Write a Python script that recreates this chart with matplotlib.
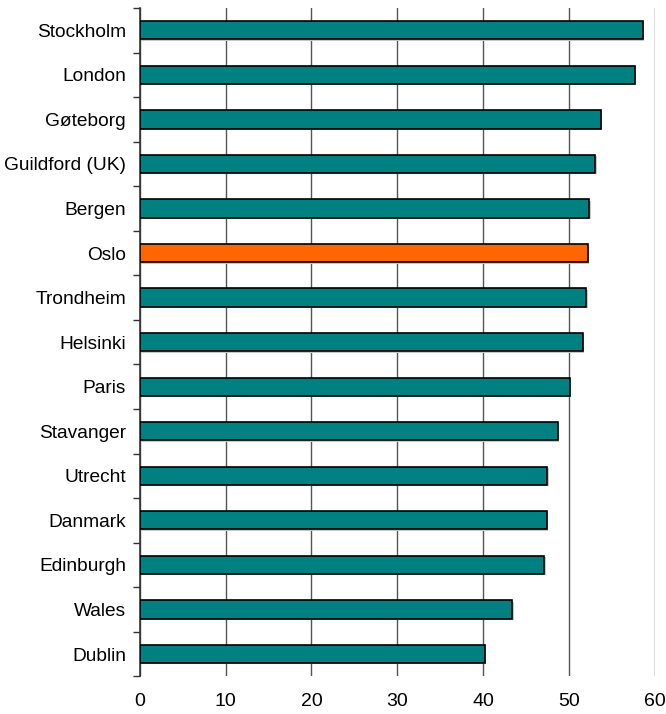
import numpy as np
import matplotlib.pyplot as plt
from matplotlib.ticker import FixedLocator

plt.rcParams['font.family'] = ['Liberation Sans', 'DejaVu Sans']

cities = ["Stockholm", "London", "Gøteborg", "Guildford (UK)", "Bergen", "Oslo",
          "Trondheim", "Helsinki", "Paris", "Stavanger", "Utrecht", "Danmark",
          "Edinburgh", "Wales", "Dublin"]
values = [58.6, 57.7, 53.7, 53.1, 52.4, 52.2, 52.05, 51.6, 50.1, 48.75,
          47.5, 47.4, 47.15, 43.4, 40.2]
highlight = "Oslo"
xticks = [0, 10, 20, 30, 40, 50, 60]

teal = "#008080"
orange = "#FF6600"

fig = plt.figure(figsize=(6.66, 7.14), dpi=100)
ax = fig.add_axes([0.210, 0.0528, 0.773, 0.936])

y = np.arange(len(cities))
colors = [orange if c == highlight else teal for c in cities]

ax.grid(axis="x", color="#555555", linewidth=1.0)
ax.set_axisbelow(True)
# light shadow behind bars
ax.barh(y + 0.03, values, height=0.41, left=0.15, color="#c8c8c8", zorder=2)
ax.barh(y, values, height=0.41, color=colors, edgecolor="black", linewidth=1.2, zorder=3)

ax.set_xlim(0, 60)
ax.set_ylim(len(cities) - 0.5, -0.5)
ax.set_xticks(xticks)
ax.set_xticklabels([str(t) for t in xticks], fontsize=14)
ax.set_yticks(y)
ax.set_yticklabels(cities, fontsize=13.8)
ax.yaxis.set_minor_locator(FixedLocator(np.arange(-0.5, len(cities), 1.0)))
ax.tick_params(axis="y", which="major", length=0, pad=10)
ax.tick_params(axis="y", which="minor", length=5, width=1, color="#333333")
ax.tick_params(axis="x", length=0, pad=12)

for s in ["top", "right", "bottom"]:
    ax.spines[s].set_visible(False)
ax.spines["left"].set_color("#333333")
ax.spines["left"].set_linewidth(1.2)

fig.savefig("out.png", dpi=100)
